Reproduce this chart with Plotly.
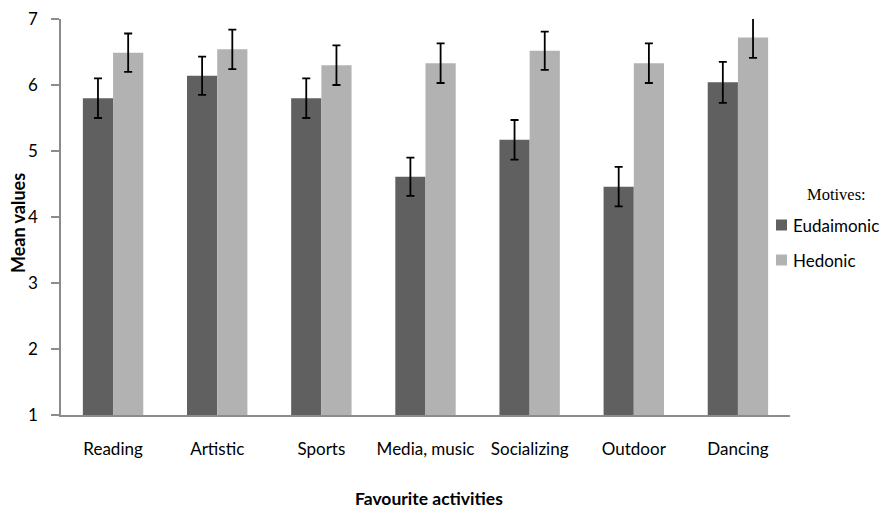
import plotly.graph_objects as go

categories = ["Reading", "Artistic", "Sports", "Media, music", "Socializing", "Outdoor", "Dancing"]
eudaimonic = [5.80, 6.14, 5.80, 4.61, 5.17, 4.46, 6.04]
eudaimonic_err = [0.30, 0.29, 0.30, 0.29, 0.30, 0.30, 0.31]
hedonic = [6.49, 6.54, 6.30, 6.33, 6.52, 6.33, 6.72]
hedonic_err = [0.29, 0.30, 0.30, 0.30, 0.29, 0.30, 0.31]
series_names = ["Eudaimonic", "Hedonic"]
series_colors = ["#606060", "#b2b2b2"]
legend_title = "Motives:"
x_title = "Favourite activities"
y_title = "Mean values"

FONT = "Lato"
AXIS_COLOR = "#8c8c8c"
W, H = 881, 510
ML, MR, MT, MB = 61, 91, 19, 95
PW, PH = W - ML - MR, H - MT - MB


def px_x(px):
    return (px - ML) / PW


def px_y(py):
    return (H - MB - py) / PH


fig = go.Figure()
for name, vals, errs, col in zip(series_names, [eudaimonic, hedonic],
                                 [eudaimonic_err, hedonic_err], series_colors):
    fig.add_trace(go.Bar(
        name=name, x=categories, y=vals,
        marker=dict(color=col, line=dict(width=0)),
        error_y=dict(type="data", array=errs, visible=True,
                     color="black", thickness=1.8, width=4),
        showlegend=False,
    ))

shapes = []
annotations = [
    dict(text=legend_title, xref="paper", yref="paper",
         x=px_x(836), y=px_y(194), xanchor="center", yanchor="middle",
         showarrow=False, font=dict(family="Liberation Serif", size=16.5, color="black")),
    dict(text="<b>%s</b>" % x_title, xref="paper", yref="paper",
         x=px_x(429), y=px_y(509.5), xanchor="center", yanchor="bottom",
         showarrow=False, borderpad=0,
         font=dict(family=FONT, size=17.5, color="black")),
    dict(text="<b>%s</b>" % y_title, xref="paper", yref="paper", textangle=-90,
         x=px_x(18), y=px_y(223), xanchor="center", yanchor="middle",
         showarrow=False, font=dict(family=FONT, size=18, color="black")),
]
for i, (name, col) in enumerate(zip(series_names, series_colors)):
    cy = 225 + 35 * i
    shapes.append(dict(
        type="rect", xref="paper", yref="paper",
        x0=px_x(776), x1=px_x(787), y0=px_y(cy - 5.5), y1=px_y(cy + 5.5),
        fillcolor=col, line=dict(width=0),
    ))
    annotations.append(dict(
        text=name, xref="paper", yref="paper",
        x=px_x(791), y=px_y(cy), xanchor="left", yanchor="middle",
        showarrow=False, font=dict(family=FONT, size=17, color="black"),
    ))

fig.update_layout(
    width=W, height=H,
    margin=dict(l=ML, r=MR, t=MT, b=MB),
    paper_bgcolor="white", plot_bgcolor="white",
    barmode="group", bargap=0.42, bargroupgap=0,
    font=dict(family=FONT, size=17, color="black"),
    showlegend=False,
    shapes=shapes,
    annotations=annotations,
    xaxis=dict(
        type="category",
        showline=True, linecolor=AXIS_COLOR, linewidth=1.5,
        ticks="", showgrid=False, zeroline=False,
        tickfont=dict(family=FONT, size=17),
        ticklabelstandoff=18,
        automargin=False,
    ),
    yaxis=dict(
        range=[1, 7], tickvals=[1, 2, 3, 4, 5, 6, 7],
        showline=True, linecolor=AXIS_COLOR, linewidth=1.5,
        ticks="outside", ticklen=8, tickcolor=AXIS_COLOR, tickwidth=1.5,
        showgrid=False, zeroline=False,
        tickfont=dict(family=FONT, size=17),
        ticklabelstandoff=10,
        automargin=False,
    ),
)

fig.write_html("out.html")
